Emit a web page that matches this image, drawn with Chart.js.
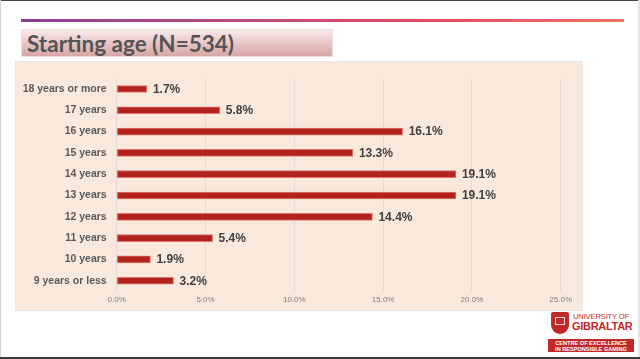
<!DOCTYPE html>
<html>
<head>
<meta charset="utf-8">
<script src="https://cdn.jsdelivr.net/npm/chart.js@4"></script>
<style>
  html, body { margin: 0; padding: 0; }
  body { width: 640px; height: 359px; background: #fff; position: relative; overflow: hidden; font-family: "Liberation Sans", Arial, sans-serif; }
  .edgeTop { position: absolute; left: 0; top: 0; width: 640px; height: 1px; background: #444; }
  .edgeBottom { position: absolute; left: 0; top: 357px; width: 640px; height: 2px; background: #3a3a3a; }
  .edgeLeft { position: absolute; left: 0; top: 0; width: 1px; height: 357px; background: #d4d4d4; }
  .edgeRight { position: absolute; left: 638px; top: 0; width: 2px; height: 357px; background: #e4e4e4; }
  .rule { position: absolute; left: 21px; top: 19px; width: 603px; height: 3px;
          background: linear-gradient(to right, #8a3f91, #c24a7a 40%, #e14e5e 70%, #ec7468); }
  .titleBox { position: absolute; left: 21px; top: 29px; width: 312px; height: 28px;
              background: linear-gradient(to bottom, #f8eaea, #e6c3c2 55%, #d8a6a4); border: 1px solid #f0dada; box-sizing: border-box; }
  .titleBox span { position: absolute; left: 5px; top: 0px; font-family: Lato, "Open Sans", sans-serif; font-weight: bold; font-size: 22.5px; color: #555; line-height: 27px; }
  #wrap { position: absolute; left: 16px; top: 62px; width: 566px; height: 248px; background: #f9e9dc; box-shadow: 0 0 0 1px #ece6e2; }
  .logo { position: absolute; left: 548px; top: 311px; width: 88px; height: 43px; }
  .crest { position: absolute; left: 3px; top: 1px; width: 18px; height: 22px; background: #c0282a; border-radius: 2px 2px 9px 9px; }
  .crest i { position: absolute; left: 4px; top: 5px; width: 10px; height: 8px; border: 1px solid #f4d6d6; box-sizing: border-box; }
  .uni1 { position: absolute; left: 25px; top: 1px; font-size: 7.5px; color: #c0282a; letter-spacing: -0.1px; white-space: nowrap; }
  .uni2 { position: absolute; left: 24px; top: 9px; font-size: 11px; font-weight: bold; color: #c0282a; white-space: nowrap; letter-spacing: -0.3px; }
  .box { position: absolute; left: 0; top: 28px; width: 86px; height: 13px; background: #c0282a; color: #fff; font-size: 5.6px; font-weight: bold; line-height: 6px; text-align: center; padding-top: 0.5px; box-sizing: border-box; }
</style>
</head>
<body>
<div class="edgeTop"></div>
<div class="edgeLeft"></div>
<div class="edgeRight"></div>
<div class="edgeBottom"></div>
<div class="rule"></div>
<div class="titleBox"><span>Starting age (N=534)</span></div>
<div id="wrap"><canvas id="ageChart" width="566" height="248"></canvas></div>
<div class="logo">
  <div class="crest"><i></i></div>
  <div class="uni1">UNIVERSITY OF</div>
  <div class="uni2">GIBRALTAR</div>
  <div class="box">CENTRE OF EXCELLENCE<br>IN RESPONSIBLE GAMING</div>
</div>
<script>
// Categories and values
const categories = ['18 years or more', '17 years', '16 years', '15 years', '14 years',
                    '13 years', '12 years', '11 years', '10 years', '9 years or less'];
const percentages = [1.7, 5.8, 16.1, 13.3, 19.1, 19.1, 14.4, 5.4, 1.9, 3.2];
const axisTicks = [0, 5, 10, 15, 20, 25];

// Draw the percentage next to the end of each bar
const valueLabels = {
    id: 'valueLabels',
    afterDatasetsDraw(chart) {
        const ctx = chart.ctx;
        const meta = chart.getDatasetMeta(0);
        ctx.save();
        ctx.font = 'bold 12px "Liberation Sans", Arial, sans-serif';
        ctx.fillStyle = '#404040';
        ctx.textAlign = 'left';
        ctx.textBaseline = 'middle';
        meta.data.forEach((bar, i) => {
            ctx.fillText(percentages[i].toFixed(1) + '%', bar.x + 6, bar.y + 0.5);
        });
        ctx.restore();
    }
};

const ctx = document.getElementById('ageChart').getContext('2d');
new Chart(ctx, {
    type: 'bar',
    data: {
        labels: categories,
        datasets: [{
            data: percentages,
            backgroundColor: '#b2231d',
            borderColor: '#e0776c',
            borderWidth: 1,
            barThickness: 7,
            borderSkipped: false
        }]
    },
    options: {
        indexAxis: 'y',
        responsive: false,
        animation: false,
        layout: { padding: { top: 10.4, right: 21.3, bottom: 0, left: 0 } },
        plugins: {
            legend: { display: false },
            tooltip: { enabled: false }
        },
        scales: {
            x: {
                min: 0,
                max: 25,
                afterBuildTicks: axis => { axis.ticks = axisTicks.map(v => ({ value: v })); },
                afterFit: axis => { axis.height = 18.6; },
                ticks: {
                    callback: v => v.toFixed(1) + '%',
                    color: '#7a7a7a',
                    font: { size: 8, family: '"Liberation Sans", Arial, sans-serif' },
                    padding: 4,
                    maxRotation: 0
                },
                grid: { color: '#dedbd8', lineWidth: 1, drawTicks: false },
                border: { display: false }
            },
            y: {
                afterFit: axis => { axis.width = 100.7; },
                ticks: {
                    color: '#595959',
                    font: { size: 10.5, weight: 'bold', family: '"Liberation Sans", Arial, sans-serif' },
                    padding: 10
                },
                grid: { display: false, drawTicks: false },
                border: { display: false }
            }
        }
    },
    plugins: [valueLabels]
});
</script>
</body>
</html>
